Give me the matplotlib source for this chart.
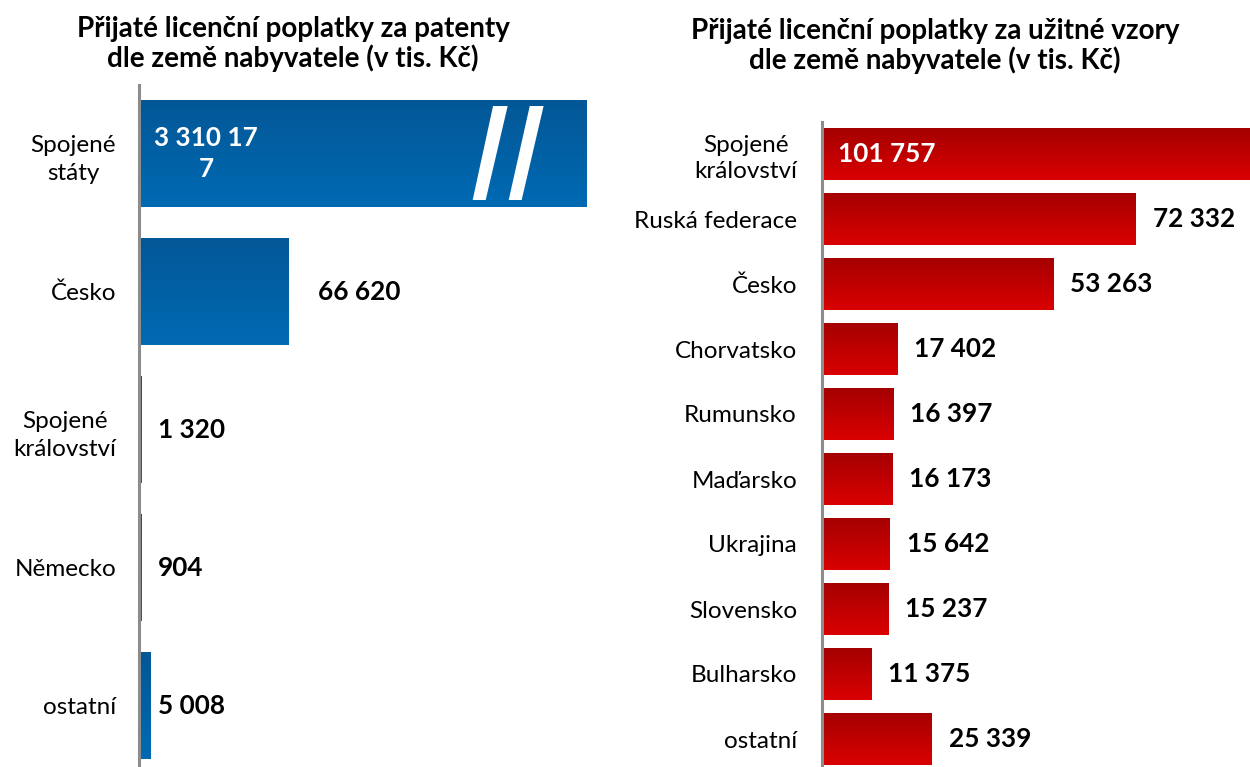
import matplotlib
matplotlib.use("Agg")
import matplotlib.pyplot as plt
import numpy as np
from matplotlib.colors import LinearSegmentedColormap
from matplotlib.patches import Polygon

# ---------------- data ----------------
pat_countries = ["Spojené\nstáty", "Česko", "Spojené\nkrálovství", "Německo", "ostatní"]
pat_values = [3310177, 66620, 1320, 904, 5008]
pat_labels = ["3 310 17\n7", "66 620", "1 320", "904", "5 008"]

uv_countries = ["Spojené\nkrálovství", "Ruská federace", "Česko", "Chorvatsko", "Rumunsko",
                "Maďarsko", "Ukrajina", "Slovensko", "Bulharsko", "ostatní"]
uv_values = [101757, 72332, 53263, 17402, 16397, 16173, 15642, 15237, 11375, 25339]
uv_labels = ["101 757", "72 332", "53 263", "17 402", "16 397", "16 173",
             "15 642", "15 237", "11 375", "25 339"]

title_left = "Přijaté licenční poplatky za patenty\ndle země nabyvatele (v tis. Kč)"
title_right = "Přijaté licenční poplatky za užitné vzory\ndle země nabyvatele (v tis. Kč)"

PAT_CAP = 200000  # broken-axis cap for the very long bar

plt.rcParams['font.family'] = ['Lato', 'DejaVu Sans']

W, H = 1250, 767
fig = plt.figure(figsize=(W / 100, H / 100), dpi=100)

blue_cmap = LinearSegmentedColormap.from_list("b", ["#035796", "#006AB3"])
red_cmap = LinearSegmentedColormap.from_list("r", ["#A50000", "#DA0000"])
grad = np.linspace(0, 1, 256).reshape(-1, 1)

CAT_FS = 17.5
VAL_FS = 18.8


def gradient_bars(ax, bars, cmap):
    for b in bars:
        x0, y0 = b.get_x(), b.get_y()
        w, h = b.get_width(), b.get_height()
        im = ax.imshow(grad, extent=[x0, x0 + w, y0 + h, y0], origin="upper",
                       aspect="auto", cmap=cmap, zorder=2, interpolation="bilinear")
        im.set_clip_path(b)


def style_axis(ax, xmax, n):
    ax.set_xlim(0, xmax)
    ax.set_ylim(n - 0.5, -0.5)
    for s in ["top", "right", "bottom"]:
        ax.spines[s].set_visible(False)
    ax.spines["left"].set_color("#8C8C8C")
    ax.spines["left"].set_linewidth(2.2)
    ax.spines["left"].set_zorder(5)
    ax.tick_params(axis="y", length=0)
    ax.set_xticks([])
    ax.patch.set_alpha(0)


# ---------------- left: patents ----------------
axL = fig.add_axes([139 / W, 1 - 774.5 / H, (600 - 139) / W, 690 / H])
yL = np.arange(len(pat_values))
pat_draw = [min(v, PAT_CAP) for v in pat_values]
barsL = axL.barh(yL, pat_draw, height=0.775, color="#0462A6", zorder=1)
gradient_bars(axL, barsL, blue_cmap)
xmaxL = 206000
style_axis(axL, xmaxL, len(pat_values))
axL.set_yticks(yL)
axL.set_yticklabels(pat_countries, fontsize=CAT_FS, linespacing=1.45)
for t in axL.get_yticklabels():
    t.set_multialignment("center")
axL.tick_params(axis="y", pad=16.5)

# break marks on the capped bar
for (b0, b1, t0, t1) in [(0.7455, 0.7746, 0.791, 0.8237), (0.826, 0.855, 0.873, 0.904)]:
    poly = Polygon([(b0 * PAT_CAP, 0.337), (b1 * PAT_CAP, 0.337),
                    (t1 * PAT_CAP, -0.344), (t0 * PAT_CAP, -0.344)],
                   closed=True, facecolor="white", edgecolor="none", zorder=4)
    axL.add_patch(poly)

# value labels
for i, (v, lab) in enumerate(zip(pat_values, pat_labels)):
    if v > PAT_CAP:
        axL.text(30000, i, lab, color="white", fontsize=VAL_FS, fontweight="bold",
                 ha="center", va="center", multialignment="center",
                 linespacing=1.35, zorder=6)
    elif v < 9000:
        axL.text(8500, i, lab, color="black", fontsize=VAL_FS, fontweight="bold",
                 ha="left", va="center", zorder=6)
    else:
        axL.text(v + 13400, i, lab, color="black", fontsize=VAL_FS, fontweight="bold",
                 ha="left", va="center", zorder=6)

# ---------------- right: utility models ----------------
axR = fig.add_axes([822 / W, 1 - 771.5 / H, (W - 822) / W, 650 / H])
yR = np.arange(len(uv_values))
barsR = axR.barh(yR, uv_values, height=0.79, color="#C00000", zorder=1)
gradient_bars(axR, barsR, red_cmap)
xmaxR = 98600
style_axis(axR, xmaxR, len(uv_values))
axR.set_yticks(yR)
axR.set_yticklabels(uv_countries, fontsize=CAT_FS, linespacing=1.3)
for t in axR.get_yticklabels():
    t.set_multialignment("center")
axR.tick_params(axis="y", pad=18)

for i, (v, lab) in enumerate(zip(uv_values, uv_labels)):
    if v > xmaxR:
        axR.text(3700, i, lab, color="white", fontsize=VAL_FS, fontweight="bold",
                 ha="left", va="center", zorder=6)
    else:
        axR.text(v + 3900, i, lab, color="black", fontsize=VAL_FS, fontweight="bold",
                 ha="left", va="center", zorder=6)

# ---------------- titles ----------------
fig.text(293 / W, 1 - 44 / H, title_left, ha="center", va="center",
         fontsize=20, fontweight="bold", linespacing=1.15)
fig.text(935 / W, 1 - 46 / H, title_right, ha="center", va="center",
         fontsize=20, fontweight="bold", linespacing=1.15)

fig.savefig("out.png", dpi=100, facecolor="white")
